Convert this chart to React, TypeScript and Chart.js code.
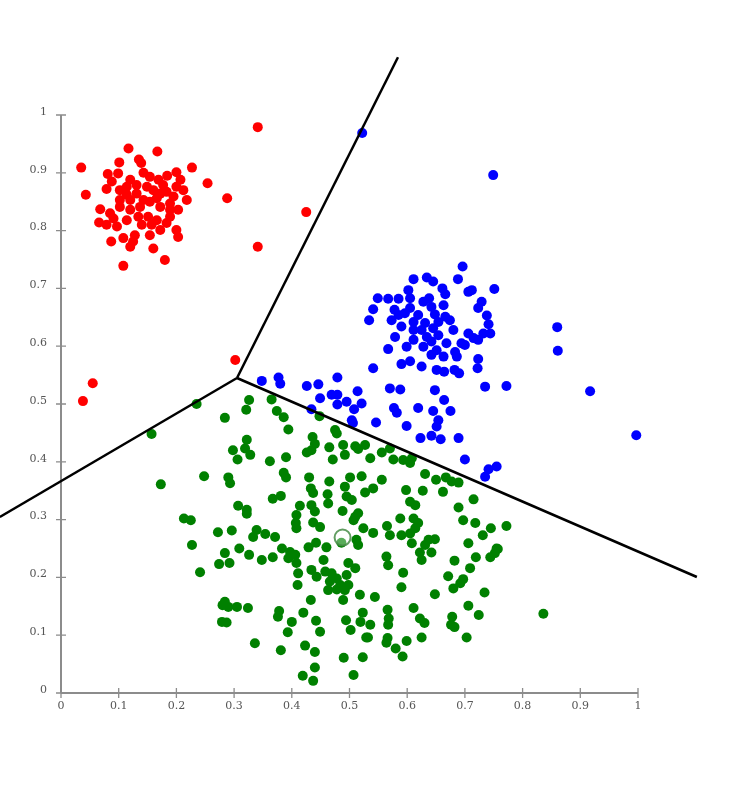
import React, { useEffect, useRef } from "react";
import { Chart, registerables } from "chart.js";

Chart.register(...registerables);

type P = [number, number];

const redPoints: P[] = [
  [0.117,0.942],[0.167,0.937],[0.035,0.909],[0.101,0.918],[0.135,0.923],[0.139,0.917],[0.227,0.909],[0.254,0.882],
  [0.043,0.862],[0.081,0.898],[0.079,0.872],[0.099,0.899],[0.120,0.888],[0.143,0.900],[0.154,0.893],[0.169,0.888],
  [0.184,0.895],[0.200,0.901],[0.207,0.888],[0.212,0.870],[0.218,0.853],[0.102,0.870],[0.114,0.862],[0.131,0.864],
  [0.149,0.876],[0.160,0.870],[0.172,0.864],[0.183,0.867],[0.195,0.859],[0.068,0.837],[0.085,0.830],[0.102,0.841],
  [0.120,0.836],[0.137,0.841],[0.154,0.850],[0.172,0.841],[0.189,0.836],[0.203,0.836],[0.066,0.814],[0.079,0.810],
  [0.097,0.807],[0.114,0.818],[0.134,0.824],[0.151,0.824],[0.166,0.818],[0.183,0.813],[0.200,0.801],[0.203,0.789],
  [0.157,0.810],[0.154,0.792],[0.128,0.792],[0.125,0.781],[0.108,0.787],[0.087,0.781],[0.120,0.772],[0.160,0.769],
  [0.180,0.749],[0.108,0.739],[0.102,0.853],[0.120,0.853],[0.143,0.853],[0.166,0.856],[0.189,0.847],[0.088,0.885],
  [0.114,0.876],[0.131,0.879],[0.177,0.879],[0.200,0.876],[0.091,0.821],[0.140,0.810],[0.172,0.801],[0.189,0.824],
  [0.341,0.979],[0.425,0.832],[0.288,0.856],[0.341,0.772],[0.302,0.576],[0.055,0.536],[0.038,0.505],
];

const bluePoints: P[] = [
  [0.696,0.738],[0.611,0.716],[0.634,0.719],[0.645,0.712],[0.688,0.716],[0.751,0.699],[0.602,0.697],[0.661,0.700],
  [0.666,0.690],[0.706,0.694],[0.712,0.697],[0.549,0.683],[0.567,0.682],[0.585,0.682],[0.605,0.683],[0.638,0.683],
  [0.628,0.677],[0.729,0.677],[0.541,0.664],[0.578,0.663],[0.605,0.666],[0.642,0.668],[0.663,0.671],[0.723,0.666],
  [0.534,0.645],[0.585,0.654],[0.596,0.657],[0.619,0.654],[0.648,0.655],[0.666,0.651],[0.738,0.653],[0.573,0.645],
  [0.611,0.642],[0.631,0.640],[0.654,0.642],[0.674,0.645],[0.741,0.638],[0.590,0.634],[0.611,0.628],[0.625,0.628],
  [0.645,0.631],[0.680,0.628],[0.706,0.622],[0.732,0.622],[0.744,0.622],[0.579,0.616],[0.634,0.616],[0.654,0.619],
  [0.715,0.614],[0.611,0.611],[0.642,0.608],[0.668,0.605],[0.694,0.605],[0.723,0.611],[0.567,0.595],[0.599,0.599],
  [0.628,0.599],[0.651,0.593],[0.683,0.590],[0.700,0.602],[0.642,0.585],[0.663,0.582],[0.686,0.582],[0.590,0.569],
  [0.605,0.574],[0.541,0.562],[0.625,0.565],[0.651,0.559],[0.664,0.556],[0.682,0.559],[0.690,0.553],[0.722,0.562],
  [0.723,0.578],
  [0.348,0.540],[0.377,0.546],[0.380,0.535],[0.426,0.531],[0.446,0.534],[0.479,0.546],[0.735,0.530],[0.772,0.531],
  [0.449,0.510],[0.469,0.516],[0.479,0.516],[0.514,0.522],[0.479,0.499],[0.495,0.504],[0.521,0.501],[0.434,0.491],
  [0.508,0.491],[0.504,0.472],[0.506,0.467],[0.546,0.468],[0.570,0.527],[0.588,0.525],[0.648,0.524],[0.664,0.507],
  [0.577,0.493],[0.582,0.485],[0.619,0.493],[0.645,0.488],[0.675,0.488],[0.599,0.462],[0.654,0.472],[0.651,0.461],
  [0.623,0.441],[0.642,0.445],[0.658,0.439],[0.689,0.441],[0.700,0.404],[0.741,0.387],[0.755,0.392],[0.735,0.374],
  [0.522,0.969],[0.749,0.896],[0.860,0.633],[0.861,0.592],[0.917,0.522],[0.997,0.446],
];

const greenPoints: P[] = [
  [0.157,0.448],[0.235,0.500],[0.284,0.476],[0.326,0.507],[0.321,0.490],[0.365,0.508],[0.374,0.488],[0.386,0.477],
  [0.394,0.456],[0.448,0.479],[0.436,0.443],[0.440,0.431],[0.426,0.416],[0.434,0.420],[0.475,0.455],[0.478,0.449],
  [0.465,0.425],[0.489,0.429],[0.471,0.404],[0.492,0.412],[0.322,0.438],[0.298,0.420],[0.319,0.423],[0.328,0.412],
  [0.306,0.404],[0.362,0.401],[0.390,0.408],[0.386,0.381],[0.390,0.373],[0.248,0.375],[0.173,0.361],[0.290,0.373],
  [0.293,0.363],[0.430,0.373],[0.465,0.366],[0.433,0.354],[0.437,0.346],[0.462,0.344],[0.492,0.357],[0.495,0.340],
  [0.367,0.336],[0.381,0.341],[0.414,0.324],[0.434,0.325],[0.440,0.314],[0.463,0.328],[0.488,0.315],[0.307,0.324],
  [0.322,0.317],[0.322,0.310],[0.213,0.302],[0.225,0.299],[0.408,0.308],[0.407,0.294],[0.437,0.295],[0.449,0.287],
  [0.272,0.278],[0.296,0.281],[0.339,0.282],[0.333,0.270],[0.354,0.275],[0.371,0.270],[0.408,0.285],
  [0.510,0.427],[0.527,0.429],[0.515,0.422],[0.536,0.406],[0.556,0.416],[0.570,0.423],[0.576,0.404],[0.593,0.403],
  [0.605,0.398],[0.608,0.406],[0.631,0.379],[0.650,0.369],[0.667,0.373],[0.677,0.366],[0.689,0.364],[0.662,0.348],
  [0.627,0.350],[0.598,0.351],[0.501,0.373],[0.521,0.375],[0.556,0.369],[0.541,0.354],[0.527,0.347],[0.504,0.334],
  [0.605,0.331],[0.614,0.325],[0.715,0.335],[0.689,0.321],[0.510,0.305],[0.515,0.311],[0.507,0.299],[0.588,0.302],
  [0.611,0.302],[0.619,0.294],[0.614,0.285],[0.565,0.289],[0.524,0.285],[0.541,0.277],[0.570,0.273],[0.590,0.273],
  [0.605,0.276],[0.697,0.299],[0.718,0.294],[0.745,0.285],[0.772,0.289],[0.731,0.273],[0.512,0.265],[0.637,0.265],
  [0.648,0.266],[0.631,0.256],[0.706,0.259],[0.755,0.250],[0.608,0.259],
  [0.227,0.256],[0.284,0.242],[0.309,0.250],[0.326,0.239],[0.274,0.223],[0.292,0.225],[0.241,0.209],[0.348,0.230],
  [0.367,0.235],[0.383,0.250],[0.397,0.244],[0.406,0.239],[0.394,0.233],[0.408,0.225],[0.411,0.207],[0.410,0.187],
  [0.429,0.252],[0.442,0.260],[0.460,0.252],[0.486,0.260],[0.515,0.256],[0.455,0.230],[0.498,0.225],[0.510,0.216],
  [0.434,0.213],[0.443,0.201],[0.458,0.210],[0.469,0.207],[0.478,0.198],[0.495,0.204],[0.466,0.193],[0.484,0.187],
  [0.498,0.187],[0.463,0.178],[0.478,0.179],[0.492,0.178],[0.518,0.170],[0.433,0.161],[0.489,0.161],[0.284,0.158],
  [0.290,0.149],[0.280,0.152],[0.305,0.149],[0.324,0.147],[0.279,0.123],[0.287,0.122],[0.378,0.142],[0.376,0.132],
  [0.400,0.123],[0.420,0.139],[0.442,0.125],[0.393,0.105],[0.449,0.106],[0.494,0.126],[0.519,0.123],[0.523,0.139],
  [0.502,0.109],[0.529,0.096],[0.336,0.086],[0.381,0.074],[0.423,0.082],[0.440,0.071],[0.490,0.061],[0.523,0.062],
  [0.440,0.044],[0.419,0.030],[0.437,0.021],[0.507,0.031],
  [0.622,0.243],[0.642,0.243],[0.625,0.230],[0.564,0.236],[0.567,0.221],[0.593,0.208],[0.590,0.183],[0.682,0.229],
  [0.719,0.235],[0.744,0.235],[0.752,0.242],[0.757,0.249],[0.709,0.216],[0.671,0.202],[0.697,0.197],[0.692,0.190],
  [0.680,0.181],[0.648,0.171],[0.734,0.174],[0.544,0.166],[0.611,0.147],[0.566,0.144],[0.568,0.129],[0.706,0.151],
  [0.724,0.135],[0.836,0.137],[0.622,0.129],[0.630,0.121],[0.678,0.132],[0.676,0.118],[0.682,0.114],[0.536,0.118],
  [0.567,0.118],[0.532,0.096],[0.566,0.095],[0.564,0.087],[0.599,0.090],[0.625,0.096],[0.703,0.096],[0.580,0.077],
  [0.592,0.063],
];

const centroidPoint: P[] = [[0.488, 0.269]];

const boundaryCenter: P = [0.305, 0.545];
const boundaryEnds: P[] = [[0.584, 1.100], [-0.106, 0.3045], [1.102, 0.2007]];

const tickValues = [0, 0.1, 0.2, 0.3, 0.4, 0.5, 0.6, 0.7, 0.8, 0.9, 1];
const tickLabels = ["0", "0.1", "0.2", "0.3", "0.4", "0.5", "0.6", "0.7", "0.8", "0.9", "1"];

const toXY = (pts: P[]) => pts.map(([x, y]) => ({ x, y }));

const axesPlugin = {
  id: "customAxes",
  beforeDatasetsDraw(chart: any) {
    const { ctx, scales } = chart;
    const xs = scales.x;
    const ys = scales.y;
    const x0 = xs.getPixelForValue(0);
    const x1 = xs.getPixelForValue(1);
    const y0 = ys.getPixelForValue(0);
    const y1 = ys.getPixelForValue(1);
    ctx.save();
    ctx.strokeStyle = "#8c8c8c";
    ctx.lineWidth = 2;
    ctx.beginPath();
    ctx.moveTo(x0, y0);
    ctx.lineTo(x1, y0);
    ctx.moveTo(x0, y0);
    ctx.lineTo(x0, y1);
    ctx.stroke();
    ctx.lineWidth = 1.3;
    ctx.beginPath();
    tickValues.forEach((v) => {
      const px = xs.getPixelForValue(v);
      ctx.moveTo(px, y0 - 5);
      ctx.lineTo(px, y0 + 5);
      const py = ys.getPixelForValue(v);
      ctx.moveTo(x0 - 5, py);
      ctx.lineTo(x0 + 5, py);
    });
    ctx.stroke();
    ctx.fillStyle = "#555";
    ctx.font = '11px "DejaVu Serif"';
    ctx.textAlign = "center";
    ctx.textBaseline = "middle";
    tickValues.forEach((v, i) => {
      ctx.fillText(tickLabels[i], xs.getPixelForValue(v), y0 + 13);
    });
    ctx.textAlign = "right";
    tickValues.forEach((v, i) => {
      ctx.fillText(tickLabels[i], x0 - 14, ys.getPixelForValue(v) - 3);
    });
    ctx.restore();
  },
};

export default function App() {
  const ref = useRef<HTMLCanvasElement | null>(null);
  useEffect(() => {
    if (!ref.current) return;
    const lineSets = boundaryEnds.map((end) => ({
      type: "scatter" as const,
      data: toXY([boundaryCenter, end]),
      showLine: true,
      borderColor: "#000",
      borderWidth: 2.5,
      pointRadius: 0,
      order: 0,
    }));
    const chart = new Chart(ref.current, {
      type: "scatter",
      data: {
        datasets: [
          ...lineSets,
          {
            data: toXY(centroidPoint),
            pointRadius: 8,
            pointBorderWidth: 2,
            pointBorderColor: "rgba(70,140,70,0.85)",
            pointBackgroundColor: "rgba(255,255,255,0.35)",
            order: 1,
          },
          {
            data: toXY(redPoints),
            pointRadius: 5,
            pointBorderWidth: 0,
            pointBackgroundColor: "#ff0000",
            order: 2,
          },
          {
            data: toXY(bluePoints),
            pointRadius: 5,
            pointBorderWidth: 0,
            pointBackgroundColor: "#0000ff",
            order: 2,
          },
          {
            data: toXY(greenPoints),
            pointRadius: 5,
            pointBorderWidth: 0,
            pointBackgroundColor: "#008000",
            order: 2,
          },
        ] as any,
      },
      options: {
        animation: false,
        responsive: false,
        layout: { padding: 0, autoPadding: false },
        plugins: { legend: { display: false }, tooltip: { enabled: false } },
        scales: {
          x: { type: "linear", display: false, min: -0.10572, max: 1.18371 },
          y: { type: "linear", display: false, min: -0.20415, max: 1.19896 },
        },
      },
      plugins: [axesPlugin],
    });
    return () => chart.destroy();
  }, []);
  return (
    <div style={{ position: "absolute", left: 0, top: 0, width: 744, height: 811, background: "#fff" }}>
      <canvas ref={ref} width={744} height={811} />
    </div>
  );
}
